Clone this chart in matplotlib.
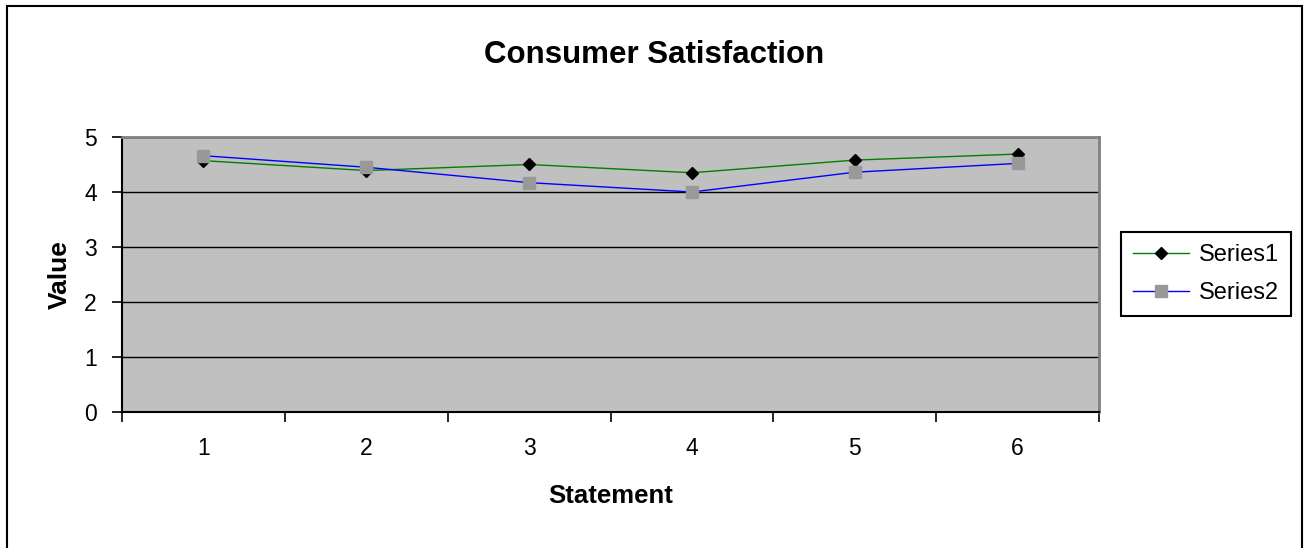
import matplotlib
matplotlib.use("Agg")
import matplotlib.pyplot as plt
from matplotlib.patches import Rectangle
from matplotlib.ticker import FixedLocator

plt.rcParams['font.family'] = ['Liberation Sans', 'DejaVu Sans']

statements = [1, 2, 3, 4, 5, 6]
series1 = [4.57, 4.39, 4.50, 4.35, 4.58, 4.69]
series2 = [4.66, 4.45, 4.17, 4.00, 4.36, 4.52]

fig = plt.figure(figsize=(13.09, 5.48), dpi=100)
ax = fig.add_axes([0.0932, 0.2482, 0.7464, 0.5018])
ax.set_facecolor('#C0C0C0')

ax.plot(statements, series1, color='#008000', lw=1.0, marker='D', ms=6.5,
        mfc='black', mec='black', label='Series1', zorder=3)
ax.plot(statements, series2, color='#0000FF', lw=1.0, marker='s', ms=8.5,
        mfc='#999999', mec='#999999', label='Series2', zorder=4)

ax.set_xlim(0.5, 6.5)
ax.set_ylim(0, 5)
ax.set_yticks(range(6))
ax.yaxis.grid(True, color='black', lw=1.0)
ax.set_axisbelow(True)

# category ticks at boundaries, labels at centres
ax.xaxis.set_major_locator(FixedLocator([x + 0.5 for x in range(7)]))
ax.xaxis.set_minor_locator(FixedLocator(statements))
ax.set_xticklabels([])
ax.set_xticklabels([str(s) for s in statements], minor=True)
ax.tick_params(axis='x', which='major', length=7, width=1.2, color='black')
ax.tick_params(axis='x', which='minor', length=0, pad=18, labelsize=16.5)
ax.tick_params(axis='y', length=7, width=1.2, pad=11, labelsize=16.5)

for side in ['left', 'bottom']:
    ax.spines[side].set_color('black')
    ax.spines[side].set_linewidth(1.5)
for side in ['top', 'right']:
    ax.spines[side].set_color('#808080')
    ax.spines[side].set_linewidth(2)

ax.set_xlabel('Statement', fontsize=18.5, fontweight='bold', labelpad=17)
ax.set_ylabel('Value', fontsize=19, fontweight='bold', labelpad=9)
fig.text(0.4996, 0.90, 'Consumer Satisfaction', ha='center', va='center',
         fontsize=22.5, fontweight='bold')

leg = ax.legend(loc='upper left', bbox_to_anchor=(0.8564, 0.5766),
                bbox_transform=fig.transFigure, fontsize=17, frameon=True,
                fancybox=False, edgecolor='black', framealpha=1,
                handlelength=2.4, borderpad=0.5, labelspacing=0.7,
                handletextpad=0.4, borderaxespad=0)
leg.get_frame().set_linewidth(1.5)

fig.patches.append(Rectangle((7 / 1309, -0.05), 1295 / 1309, 1.05 - 6 / 548,
                             transform=fig.transFigure, fill=False,
                             edgecolor='black', lw=1.5))

fig.savefig('out.png', dpi=100)
